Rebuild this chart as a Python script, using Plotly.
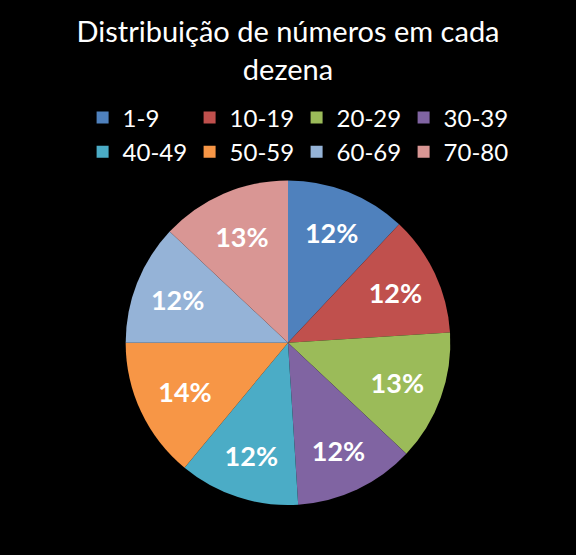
import plotly.graph_objects as go

# Dados
dezenas = ['1-9', '10-19', '20-29', '30-39', '40-49', '50-59', '60-69', '70-80']
percentuais = [12, 12, 13, 12, 12, 14, 12, 13]
cores = ['#4F81BD', '#C0504D', '#9BBB59', '#8064A2',
         '#4BACC6', '#F79646', '#95B3D7', '#D99694']

fig = go.Figure()
fig.add_trace(go.Pie(
    labels=dezenas,
    values=percentuais,
    sort=False,
    direction='clockwise',
    rotation=0,
    marker=dict(colors=cores, line=dict(color='#000000', width=0)),
    texttemplate='%{percent:.0%}',
    textposition='inside',
    insidetextorientation='horizontal',
    textfont=dict(family='Lato', size=27, color='white', weight='bold'),
    domain=dict(x=[0.0, 1.0], y=[0.09, 0.675]),
    hoverinfo='label+percent',
))

# margens laterais reduzem a área do gráfico -> legenda quebra em 4 colunas
fig.update_layout(
    width=576, height=555,
    paper_bgcolor='black',
    plot_bgcolor='black',
    margin=dict(l=73, r=73, t=0, b=0),
    title=dict(text='Distribuição de números em cada<br>dezena',
               x=0.5, xanchor='center', y=0.924, yanchor='top',
               font=dict(family='Lato', size=29, color='white')),
    legend=dict(orientation='h', x=0.52, xanchor='center',
                y=0.828, yanchor='top',
                entrywidth=62, entrywidthmode='pixels',
                font=dict(family='Lato', size=24, color='white'),
                bgcolor='rgba(0,0,0,0)'),
)

fig.write_html("out.html",
               config={'displayModeBar': False},
               post_script="document.body.style.margin='0';"
                           "document.body.style.background='black';")
